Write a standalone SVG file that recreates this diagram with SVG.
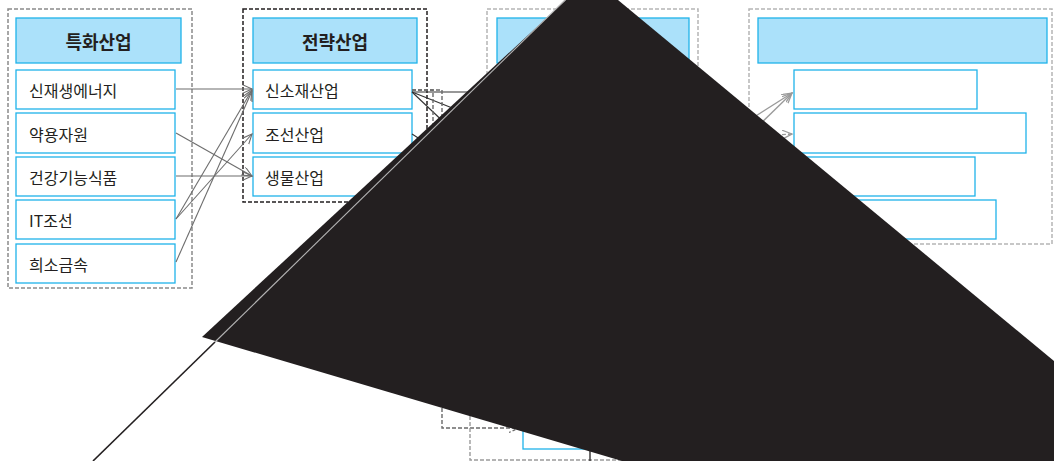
<svg xmlns="http://www.w3.org/2000/svg" width="1054" height="461" viewBox="0 0 1054 461">
<style>
.bg{fill:#ffffff}
.grp1{fill:none;stroke:#8a8a8a;stroke-width:1.5;stroke-dasharray:4 2}
.grp2{fill:none;stroke:#231f20;stroke-width:1.5;stroke-dasharray:4 2}
.grp3{fill:none;stroke:#b5b5b5;stroke-width:1.5;stroke-dasharray:4 2}
.hdr{fill:#abe1fa;stroke:#1fb3ea;stroke-width:1.3}
.box{fill:#ffffff;stroke:#1fb3ea;stroke-width:1.3}
.ht{font-family:"Noto Sans CJK KR","Noto Sans",sans-serif;font-size:18px;font-weight:700;fill:#231f20;text-anchor:middle;dominant-baseline:central}
.t{font-family:"Noto Sans CJK KR","Noto Sans",sans-serif;font-size:16px;fill:#231f20;dominant-baseline:central}
.a1{fill:none;stroke:#6d6d6d;stroke-width:1.1}
.a2{fill:none;stroke:#333333;stroke-width:1.1}
.a3{fill:none;stroke:#9a9a9a;stroke-width:1.3}
.d1{fill:none;stroke:#6a6a6a;stroke-width:1.4;stroke-dasharray:4 2}
.d2{fill:none;stroke:#9a9a9a;stroke-width:1.4;stroke-dasharray:4 2}
</style>
<defs>
<marker id="ah" markerUnits="userSpaceOnUse" markerWidth="12" markerHeight="10" refX="10" refY="4.5" orient="auto">
<path d="M0,0 L10,4.5 L0,9" fill="none" stroke="#6d6d6d" stroke-width="1.1"/>
</marker>
<marker id="ahg" markerUnits="userSpaceOnUse" markerWidth="12" markerHeight="10" refX="10" refY="4.5" orient="auto">
<path d="M0,0 L10,4.5 L0,9" fill="none" stroke="#9a9a9a" stroke-width="1.3"/>
</marker>
<marker id="ahd" markerUnits="userSpaceOnUse" markerWidth="12" markerHeight="10" refX="10" refY="4.5" orient="auto">
<path d="M0,0 L10,4.5 L0,9" fill="none" stroke="#6a6a6a" stroke-width="1.2" stroke-dasharray="3 2"/>
</marker>
</defs>
<rect class="bg" x="0" y="0" width="1054" height="461"/>

<g id="group-specialized">
<rect class="grp1" x="8" y="9" width="184" height="279"/>
<g id="hdr-specialized"><rect class="hdr" x="16" y="18" width="165" height="45"/><text class="ht" x="98.5" y="41">특화산업</text></g>
<g id="n-renewable"><rect class="box" x="16" y="70" width="159" height="39"/><text class="t" x="29" y="90">신재생에너지</text></g>
<g id="n-herbal"><rect class="box" x="16" y="113" width="159" height="40"/><text class="t" x="29" y="133.5">약용자원</text></g>
<g id="n-health"><rect class="box" x="16" y="157" width="159" height="39"/><text class="t" x="29" y="177">건강기능식품</text></g>
<g id="n-itship"><rect class="box" x="16" y="200" width="159" height="39"/><text class="t" x="29" y="220">IT조선</text></g>
<g id="n-raremetal"><rect class="box" x="16" y="244" width="159" height="39"/><text class="t" x="29" y="264">희소금속</text></g>
</g>

<g id="group-strategic">
<rect class="grp2" x="243" y="9" width="184" height="193"/>
<g id="hdr-strategic"><rect class="hdr" x="253" y="18" width="164" height="45"/><text class="ht" x="335" y="41">전략산업</text></g>
<g id="n-material"><rect class="box" x="253" y="70" width="159" height="39"/><text class="t" x="265" y="90">신소재산업</text></g>
<g id="n-shipbuilding"><rect class="box" x="253" y="113" width="159" height="40"/><text class="t" x="265" y="133.5">조선산업</text></g>
<g id="n-bio"><rect class="box" x="253" y="157" width="159" height="39"/><text class="t" x="265" y="177">생물산업</text></g>
</g>

<g id="group-third">
<rect class="grp3" x="487" y="9" width="211" height="290"/>
<rect class="hdr" x="497" y="18" width="192" height="45"/>
</g>

<g id="group-fourth">
<rect class="grp3" x="749" y="9" width="303" height="235"/>
<rect class="hdr" x="758" y="18" width="289" height="45"/>
<rect class="box" x="794" y="70" width="183" height="39"/>
<rect class="box" x="794" y="113" width="232" height="40"/>
<rect class="box" x="794" y="157" width="181" height="39"/>
<rect class="box" x="794" y="200" width="202" height="39"/>
</g>

<g id="bottom-nodes">
<rect class="box" x="523" y="415" width="66" height="34"/>
</g>

<g id="connectors">
<line class="a1" x1="176" y1="89" x2="252" y2="89" marker-end="url(#ah)"/>
<line class="a1" x1="176" y1="133" x2="252" y2="176" marker-end="url(#ah)"/>
<line class="a1" x1="176" y1="176" x2="252" y2="176" marker-end="url(#ah)"/>
<line class="a1" x1="176" y1="219" x2="252" y2="134" marker-end="url(#ah)"/>
<line class="a1" x1="176" y1="219" x2="252" y2="90" marker-end="url(#ah)"/>
<line class="a1" x1="176" y1="262" x2="252" y2="91" marker-end="url(#ah)"/>
<line class="a2" x1="412" y1="92" x2="490" y2="92"/>
<line class="a2" x1="412" y1="92" x2="480" y2="119"/>
<line class="a2" x1="412" y1="92" x2="470" y2="147"/>
<line class="a2" x1="412" y1="134" x2="440" y2="152"/>
<path class="d1" d="M412,90 H442 V428 H519" marker-end="url(#ahd)"/>
<path class="d1" d="M412,90 H433 V300"/>
<path class="d2" d="M470,380 V460 H660"/>
<line x1="590" y1="430" x2="590" y2="461" stroke="#231f20" stroke-width="1.3"/>
<line class="a3" x1="693" y1="156" x2="792" y2="93" marker-end="url(#ahg)"/>
<line class="a3" x1="713" y1="170" x2="792" y2="93" marker-end="url(#ahg)"/>
<line class="d2" x1="740" y1="137" x2="792" y2="134" marker-end="url(#ahg)"/>
</g>

<g id="overlay">
<polygon points="566,0 618,0 1054,361 1054,461 622,461 202,337" fill="#231f20"/>
<line x1="93" y1="461" x2="215" y2="342" stroke="#231f20" stroke-width="1.6"/>
<line x1="215" y1="342" x2="565" y2="0" stroke="#b4b4b4" stroke-width="1.1"/>
</g>
</svg>
